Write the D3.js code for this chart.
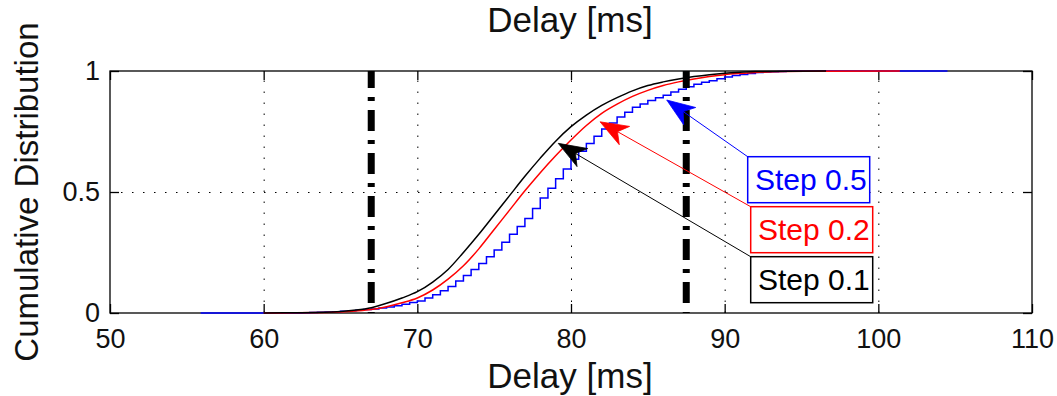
<html>
<head>
  <script src="https://d3js.org/d3.v7.min.js"></script>
  <style>
    body { margin: 0; background: #fff; }
    text { font-family: "Liberation Sans", Arial, Helvetica, sans-serif; }
    .gridlines line { stroke: #000; stroke-width: 1; stroke-dasharray: 1.5,9.5; }
    .gridlines .domain { stroke: none; }
    .axis .domain { stroke: none; }
    .axis line { stroke: #000; stroke-width: 1.3; }
    .axis text { fill: #111; }
  </style>
</head>
<body>
  <svg id="p" width="1057" height="396"></svg>
  <script>
    // ticks
    const xTicks = [50, 60, 70, 80, 90, 100, 110];
    const yTicks = [0, 0.5, 1];
    const yTickLabels = ["0", "0.5", "1"];
    const markerX = [67, 87.5];

    // Step 0.1 (black)
    const blackX = [60, 62, 64, 65, 66, 67, 68, 69, 70, 71, 72, 73, 74, 75, 76, 77, 78, 79, 80,
                    81, 82, 83, 84, 85, 86, 87, 88, 89, 90, 91, 92, 94, 96.6];
    const blackY = [0, 0.001, 0.003, 0.006, 0.012, 0.022, 0.04, 0.062, 0.088, 0.128, 0.18, 0.25, 0.325, 0.405, 0.485, 0.565, 0.64, 0.71, 0.77,
                    0.818, 0.858, 0.89, 0.918, 0.94, 0.955, 0.967, 0.977, 0.985, 0.991, 0.995, 0.998, 0.999, 1];

    // Step 0.2 (red)
    const redX = [60, 62, 64, 65, 66, 67, 68, 69, 70, 71, 72, 73, 74, 75, 76, 77, 78, 79, 80,
                  81, 82, 83, 84, 85, 86, 87, 88, 89, 90, 91, 92, 94, 96, 101.4];
    const redY = [0, 0.001, 0.002, 0.004, 0.008, 0.014, 0.026, 0.042, 0.062, 0.095, 0.14, 0.195, 0.265, 0.345, 0.425, 0.505, 0.58, 0.65, 0.715,
                  0.775, 0.825, 0.863, 0.895, 0.92, 0.94, 0.955, 0.967, 0.977, 0.985, 0.99, 0.994, 0.998, 0.999, 1];

    // Step 0.5 (blue, staircase)
    const blueX = [55.9, 62, 62.5, 63, 63.5, 64, 64.5, 65, 65.5, 66, 66.5, 67, 67.5, 68, 68.5, 69, 69.5,
                   70, 70.5, 71, 71.5, 72, 72.5, 73, 73.5, 74, 74.5, 75, 75.5, 76, 76.5, 77, 77.5,
                   78, 78.5, 79, 79.5, 80, 80.5, 81, 81.5, 82, 82.5, 83, 83.5, 84, 84.5, 85, 85.5,
                   86, 86.5, 87, 87.5, 88, 88.5, 89, 89.5, 90, 90.5, 91, 91.5, 92, 92.5, 93, 93.5,
                   94, 94.5, 104.5];
    const blueY = [0, 0, 0.001, 0.002, 0.003, 0.004, 0.005, 0.007, 0.009, 0.011, 0.014, 0.017, 0.021, 0.025, 0.03, 0.036, 0.043,
                   0.05, 0.062, 0.075, 0.092, 0.11, 0.132, 0.155, 0.18, 0.205, 0.232, 0.26, 0.292, 0.325, 0.357, 0.39, 0.432,
                   0.475, 0.515, 0.555, 0.595, 0.635, 0.668, 0.7, 0.73, 0.76, 0.785, 0.81, 0.83, 0.85, 0.864, 0.878, 0.889,
                   0.9, 0.913, 0.925, 0.935, 0.945, 0.953, 0.96, 0.968, 0.975, 0.981, 0.986, 0.99, 0.994, 0.996, 0.997, 0.998,
                   0.999, 1, 1];

    // annotations: label text and the point each arrow points at
    const stepLabels = ["Step 0.5", "Step 0.2", "Step 0.1"];
    const stepColors = ["#0000ff", "#ff0000", "#000000"];
    const tipX = [86.23, 81.89, 79.17];
    const tipY = [0.88, 0.79, 0.701];

    const svg = d3.select("svg#p");
    const width = +svg.attr("width");
    const height = +svg.attr("height");
    const margin = {top: 71, right: 25, bottom: 83, left: 110};
    const chartWidth = width - margin.left - margin.right;
    const chartHeight = height - margin.top - margin.bottom;

    const x = d3.scaleLinear().domain([50, 110]).range([0, chartWidth]);
    const y = d3.scaleLinear().domain([0, 1]).range([chartHeight, 0]);

    svg.append("rect").attr("width", width).attr("height", height).attr("fill", "#fff");

    const chart = svg.append("g")
                     .attr("transform", "translate(" + margin.left + "," + margin.top + ")");

    // dotted grid
    chart.append("g")
         .attr("class", "gridlines")
         .attr("transform", "translate(0," + chartHeight + ")")
         .call(d3.axisBottom(x).tickValues(xTicks.slice(1, -1)).tickSize(-chartHeight).tickFormat(""));
    chart.append("g")
         .attr("class", "gridlines")
         .call(d3.axisLeft(y).tickValues([0.5]).tickSize(-chartWidth).tickFormat(""));

    // box
    chart.append("rect")
         .attr("width", chartWidth).attr("height", chartHeight)
         .attr("fill", "none").attr("stroke", "#000").attr("stroke-width", 1.3);

    // axes with inward ticks
    chart.append("g")
         .attr("class", "axis")
         .attr("transform", "translate(0," + chartHeight + ")")
         .call(d3.axisBottom(x).tickValues(xTicks).tickSizeInner(-9).tickSizeOuter(0).tickPadding(16));
    chart.append("g").attr("class", "axis")
         .call(d3.axisTop(x).tickValues(xTicks).tickSizeInner(-9).tickSizeOuter(0).tickFormat(""));
    chart.append("g")
         .attr("class", "axis")
         .call(d3.axisLeft(y).tickValues(yTicks).tickSizeInner(-9).tickSizeOuter(0).tickPadding(10)
                 .tickFormat((d, i) => yTickLabels[i]));
    chart.append("g").attr("class", "axis")
         .attr("transform", "translate(" + chartWidth + ",0)")
         .call(d3.axisRight(y).tickValues(yTicks).tickSizeInner(-9).tickSizeOuter(0).tickFormat(""));
    chart.selectAll(".axis").attr("font-size", 27).attr("font-family", null);

    // curves: blue under red under black
    const line = d3.line().x(d => x(d[0])).y(d => y(d[1]));
    chart.append("path")
         .datum(blueX.map((v, i) => [v, blueY[i]]))
         .attr("d", line.curve(d3.curveStepAfter))
         .attr("fill", "none").attr("stroke", "#0000ff").attr("stroke-width", 1.5);
    chart.append("path")
         .datum(redX.map((v, i) => [v, redY[i]]))
         .attr("d", line.curve(d3.curveMonotoneX))
         .attr("fill", "none").attr("stroke", "#ff0000").attr("stroke-width", 1.5);
    chart.append("path")
         .datum(blackX.map((v, i) => [v, blackY[i]]))
         .attr("d", line.curve(d3.curveMonotoneX))
         .attr("fill", "none").attr("stroke", "#000").attr("stroke-width", 1.5);

    // thick dash-dot markers
    chart.selectAll("line.marker").data(markerX)
         .join("line")
         .attr("class", "marker")
         .attr("x1", d => x(d)).attr("x2", d => x(d))
         .attr("y1", y(1)).attr("y2", y(0))
         .attr("stroke", "#000").attr("stroke-width", 7)
         .attr("stroke-dasharray", "21,9,4,9").attr("stroke-dashoffset", 4);

    // text boxes (top-left corner, relative to plot area)
    const boxPos = [[637.7, 85.7], [640.7, 135.7], [640.7, 185.7]];
    const boxW = 122, boxH = 46;
    const headL = 28, headW = 10.5, headN = 20;

    stepLabels.forEach((label, i) => {
      const c = stepColors[i];
      const bx = boxPos[i][0], by = boxPos[i][1];
      const tx = x(tipX[i]), ty = y(tipY[i]);
      const dx = bx - tx, dy = by - ty;
      const len = Math.sqrt(dx * dx + dy * dy);
      const ux = dx / len, uy = dy / len;
      const nx = -uy, ny = ux;

      chart.append("line")
           .attr("x1", bx).attr("y1", by)
           .attr("x2", tx + ux * headN).attr("y2", ty + uy * headN)
           .attr("stroke", c).attr("stroke-width", 1);
      const head = [
        [tx, ty],
        [tx + ux * headL + nx * headW, ty + uy * headL + ny * headW],
        [tx + ux * headN, ty + uy * headN],
        [tx + ux * headL - nx * headW, ty + uy * headL - ny * headW]
      ];
      chart.append("path")
           .attr("d", "M" + head.map(p => p.join(",")).join("L") + "Z")
           .attr("fill", c).attr("stroke", c).attr("stroke-width", 0.8);

      chart.append("rect")
           .attr("x", bx).attr("y", by).attr("width", boxW).attr("height", boxH)
           .attr("fill", "#fff").attr("stroke", c).attr("stroke-width", 1.5);
      chart.append("text")
           .attr("x", bx + 7.3).attr("y", by + 33.5)
           .attr("font-size", 30).attr("fill", c)
           .text(label);
    });

    // titles
    svg.append("text")
       .attr("x", 570).attr("y", 32)
       .attr("text-anchor", "middle").attr("font-size", 35).attr("fill", "#111")
       .text("Delay [ms]");
    svg.append("text")
       .attr("x", 570).attr("y", 388)
       .attr("text-anchor", "middle").attr("font-size", 35).attr("fill", "#111")
       .text("Delay [ms]");
    svg.append("text")
       .attr("transform", "translate(38,192) rotate(-90)")
       .attr("text-anchor", "middle").attr("font-size", 33).attr("fill", "#111")
       .text("Cumulative Distribution");
  </script>
</body>
</html>
